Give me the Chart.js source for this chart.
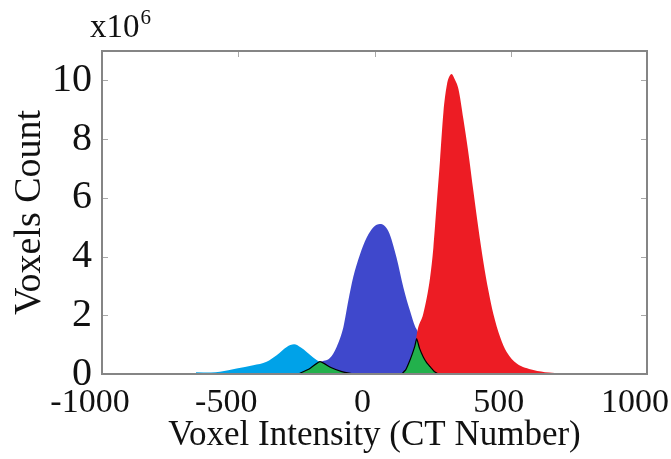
<!DOCTYPE html>
<html>
<head>
<meta charset="utf-8">
<script src="https://cdn.jsdelivr.net/npm/chart.js@4.4.1/dist/chart.umd.min.js"></script>
<style>
  body { margin: 0; background: #fff; }
  #wrap { width: 671px; height: 459px; }
</style>
</head>
<body>
<div id="wrap"><canvas id="chart" width="671" height="459"></canvas></div>
<script>
// histogram envelopes per tissue class, counts in millions of voxels
const cyanX = [-655, -600, -567, -506, -445, -396, -359, -322, -295, -270, -249, -225, -200, -170, -140, -100];
const cyanY = [0.06, 0.05, 0.08, 0.19, 0.30, 0.42, 0.64, 0.92, 1.01, 0.90, 0.75, 0.56, 0.40, 0.28, 0.14, 0];

const blueX = [-280, -240, -200, -163, -139, -114, -96, -78, -53, -29, -4, 20, 51, 81, 106, 130, 149, 157, 180, 220, 250];
const blueY = [0, 0.15, 0.40, 0.55, 0.92, 1.6, 2.5, 3.3, 4.08, 4.64, 5.0, 5.11, 4.86, 3.96, 2.95, 2.16, 1.62, 1.48, 0.8, 0.2, 0];

const redX = [110, 130, 145, 157, 179, 204, 216, 228, 240, 253, 265, 274, 283, 294, 308, 326, 344, 363, 381, 399, 418, 436, 461, 485, 522, 583, 640, 662];
const redY = [0, 0.3, 0.65, 1.45, 2.05, 3.29, 4.3, 5.77, 7.23, 8.92, 9.82, 10.12, 10.22, 10.05, 9.71, 8.69, 7.57, 6.22, 4.98, 3.85, 2.84, 2.05, 1.26, 0.75, 0.36, 0.14, 0.05, 0.03];

// mixed-voxel class, two separate humps
const greenX = [-280, -240, -200, -160, -120, -75, 10, 100, 115, 130, 140, 148, 155, 165, 179, 192, 204, 220, 234];
const greenY = [0, 0.17, 0.42, 0.22, 0.08, 0, null, 0, 0.15, 0.47, 0.72, 0.95, 1.2, 0.88, 0.58, 0.38, 0.25, 0.08, 0];

const xTicks = [-1000, -500, 0, 500, 1000];
const yTicks = [0, 2, 4, 6, 8, 10];

const serif = "'Liberation Serif', 'Times New Roman', serif";

const points = (xs, ys) => xs.map((x, i) => ({ x: x, y: ys[i] }));

const area = (xs, ys, color, order) => ({
    data: points(xs, ys),
    backgroundColor: color,
    borderColor: color,
    borderWidth: 0,
    fill: "origin",
    pointRadius: 0,
    cubicInterpolationMode: "monotone",
    order: order
});

// box round the plot with short inward tick marks, plus the exponent note
const frame = {
    id: "frame",
    afterDatasetsDraw(chart) {
        const { ctx, chartArea: a, scales } = chart;
        ctx.save();
        ctx.strokeStyle = "#a8a8a8";
        ctx.lineWidth = 1;
        ctx.beginPath();
        yTicks.forEach(v => {
            const y = Math.round(scales.y.getPixelForValue(v)) + 0.5;
            ctx.moveTo(a.left, y); ctx.lineTo(a.left + 6, y);
            ctx.moveTo(a.right, y); ctx.lineTo(a.right - 6, y);
        });
        xTicks.forEach(v => {
            const x = Math.round(scales.x.getPixelForValue(v)) + 0.5;
            ctx.moveTo(x, a.top); ctx.lineTo(x, a.top + 6);
        });
        ctx.stroke();
        ctx.strokeStyle = "#858585";
        ctx.lineWidth = 2;
        ctx.strokeRect(a.left, a.top, a.right - a.left, a.bottom - a.top);
        ctx.restore();
    },
    afterDraw(chart) {
        const ctx = chart.ctx;
        const a = chart.chartArea;
        ctx.save();
        ctx.fillStyle = "#111";
        ctx.textBaseline = "alphabetic";
        ctx.font = "33px " + serif;
        ctx.fillText("x10", a.left - 12, 37);
        const w = ctx.measureText("x10").width;
        ctx.font = "21px " + serif;
        ctx.fillText("6", a.left - 12 + w + 1, 24);
        ctx.restore();
    }
};

const fixScale = size => scale => {
    if (scale.isHorizontal()) scale.height = size; else scale.width = size;
    scale.paddingLeft = 0;
    scale.paddingRight = 0;
    scale.paddingTop = 0;
    scale.paddingBottom = 0;
};

const green = area(greenX, greenY, "#22B14C", 0);
green.borderColor = "#000";
green.borderWidth = 1.2;
green.cubicInterpolationMode = "default";
green.tension = 0.15;

new Chart(document.getElementById("chart"), {
    type: "line",
    data: {
        datasets: [
            green,
            area(redX, redY, "#ED1C24", 1),
            area(blueX, blueY, "#3F48CC", 2),
            area(cyanX, cyanY, "#00A2E8", 3)
        ]
    },
    options: {
        responsive: false,
        animation: false,
        events: [],
        layout: { padding: { top: 51, right: 24, bottom: 0, left: 0 } },
        plugins: { legend: { display: false }, tooltip: { enabled: false } },
        datasets: { line: { spanGaps: false } },
        scales: {
            x: {
                type: "linear",
                min: -1000,
                max: 1000,
                afterFit: fixScale(85),
                afterBuildTicks: s => { s.ticks = xTicks.map(v => ({ value: v })); },
                grid: { display: false, drawTicks: false },
                border: { display: false },
                ticks: {
                    color: "#111",
                    padding: 9,
                    labelOffset: -12,
                    maxRotation: 0,
                    callback: v => String(v),
                    font: { family: serif, size: 34 }
                },
                title: {
                    display: true,
                    text: "Voxel Intensity (CT Number)",
                    color: "#111",
                    padding: { top: 0, bottom: 2 },
                    font: { family: serif, size: 35 }
                }
            },
            y: {
                min: 0,
                max: 11,
                afterFit: fixScale(102),
                afterBuildTicks: s => { s.ticks = yTicks.map(v => ({ value: v })); },
                grid: { display: false, drawTicks: false },
                border: { display: false },
                ticks: {
                    color: "#111",
                    padding: 10,
                    callback: v => String(v),
                    font: { family: serif, size: 40 }
                },
                title: {
                    display: true,
                    text: "Voxels Count",
                    color: "#111",
                    padding: { top: 7, bottom: 0 },
                    font: { family: serif, size: 38 }
                }
            }
        }
    },
    plugins: [frame]
});
</script>
</body>
</html>
